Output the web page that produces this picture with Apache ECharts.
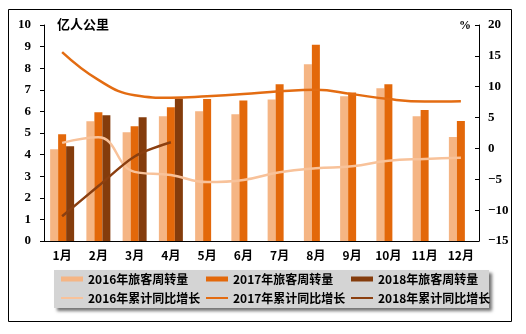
<!DOCTYPE html>
<html>
<head>
<meta charset="utf-8">
<script src="https://cdn.jsdelivr.net/npm/echarts@6/dist/echarts.min.js"></script>
<style>html,body{margin:0;padding:0;background:#fff}#c{width:526px;height:334px}</style>
</head>
<body>
<div id="c"></div>
<script>
var months = ['1月','2月','3月','4月','5月','6月','7月','8月','9月','10月','11月','12月'];
var pax2016 = [4.25, 5.54, 5.03, 5.77, 6.01, 5.87, 6.55, 8.18, 6.70, 7.07, 5.77, 4.81];
var pax2017 = [4.94, 5.96, 5.31, 6.19, 6.57, 6.50, 7.26, 9.09, 6.88, 7.26, 6.06, 5.55];
var pax2018 = [4.39, 5.82, 5.73, 6.60, null, null, null, null, null, null, null, null];
var growth2016 = [0.9, 1.8, -3.8, -4.3, -5.45, -5.1, -3.85, -3.2, -2.9, -2.0, -1.7, -1.5];
var growth2017 = [15.6, 11.1, 8.6, 8.2, 8.45, 8.8, 9.25, 9.5, 8.8, 8.0, 7.6, 7.65];
var growth2018 = [-11.0, -6.1, -1.3, 1.0];
var names = ['2016年旅客周转量','2017年旅客周转量','2018年旅客周转量','2016年累计同比增长','2017年累计同比增长','2018年累计同比增长'];
var colBar = ['#F5B584', '#E3680A', '#843C0C'];
var colLine = ['#F8C29A', '#E36C12', '#8B3F10'];

var numFont = {fontFamily: 'Liberation Serif', fontWeight: 'bold', fontSize: 13, color: '#000'};
var cjk = 'Noto Sans CJK SC';
var legTxt = {fontFamily: cjk, fontWeight: 'bold', fontSize: 12, color: '#000', lineHeight: 14};

function leg(name, left, top, h) {
  return {data: [{name: name, icon: 'rect'}], left: left, top: top, padding: 0,
    itemWidth: 22, itemHeight: h, itemGap: 0, textStyle: legTxt, selectedMode: false};
}

var chart = echarts.init(document.getElementById('c'), null, {renderer: 'canvas'});
chart.setOption({
  animation: false,
  backgroundColor: '#fff',
  grid: {left: 44, right: 47, top: 25, bottom: 93},
  legend: [
    leg(names[0], 61, 272, 5), leg(names[1], 206, 272, 5), leg(names[2], 351, 272, 5),
    leg(names[3], 61, 291, 2), leg(names[4], 206, 291, 2), leg(names[5], 351, 291, 2)
  ],
  graphic: [
    {type: 'rect', shape: {x: 8.5, y: 9.5, width: 503, height: 312}, style: {fill: 'none', stroke: '#000', lineWidth: 1}, z: 0},
    {type: 'rect', shape: {x: 54, y: 270, width: 435, height: 38},
     style: {fill: '#d4d4d4', shadowColor: 'rgba(0,0,0,0.55)', shadowOffsetX: 3, shadowOffsetY: 3, shadowBlur: 3}, z: 0},
    {type: 'text', left: 57, top: 18, style: {text: '亿人公里', font: 'bold 13px "Noto Sans CJK SC"', fill: '#000'}, z: 5},
    {type: 'text', left: 459, top: 20, style: {text: '%', font: 'bold 12px "Liberation Serif"', fill: '#000'}, z: 5}
  ],
  xAxis: {
    type: 'category', data: months, boundaryGap: true,
    axisLine: {lineStyle: {color: '#000', width: 1}},
    axisTick: {inside: true, length: 4, lineStyle: {color: '#000'}},
    axisLabel: {margin: 8, fontFamily: cjk, fontWeight: 'bold', fontSize: 12, color: '#000'}
  },
  yAxis: [
    {type: 'value', min: 0, max: 10, interval: 1, splitLine: {show: false},
     axisLine: {show: true, lineStyle: {color: '#000'}},
     axisTick: {show: true, length: 4, lineStyle: {color: '#000'}},
     axisLabel: Object.assign({margin: 13}, numFont)},
    {type: 'value', min: -15, max: 20, interval: 5, splitLine: {show: false},
     axisLine: {show: true, lineStyle: {color: '#000'}},
     axisTick: {show: true, inside: true, length: 4, lineStyle: {color: '#000'}},
     axisLabel: Object.assign({margin: 9, formatter: function (v) { return v < 0 ? '−' + (-v) : String(v); }}, numFont)}
  ],
  series: [
    {name: names[0], type: 'bar', data: pax2016, barWidth: 8, barGap: '0%', itemStyle: {color: colBar[0]}},
    {name: names[1], type: 'bar', data: pax2017, barWidth: 8, barGap: '0%', itemStyle: {color: colBar[1]}},
    {name: names[2], type: 'bar', data: pax2018, barWidth: 8, barGap: '0%', itemStyle: {color: colBar[2]}},
    {name: names[3], type: 'line', yAxisIndex: 1, data: growth2016, smooth: 0.45, showSymbol: false, symbol: 'none', lineStyle: {color: colLine[0], width: 2.5}, itemStyle: {color: colLine[0]}, z: 3},
    {name: names[4], type: 'line', yAxisIndex: 1, data: growth2017, smooth: 0.45, showSymbol: false, symbol: 'none', lineStyle: {color: colLine[1], width: 2.5}, itemStyle: {color: colLine[1]}, z: 3},
    {name: names[5], type: 'line', yAxisIndex: 1, data: growth2018, smooth: 0.3, showSymbol: false, symbol: 'none', lineStyle: {color: colLine[2], width: 2.5}, itemStyle: {color: colLine[2]}, z: 3}
  ]
});
</script>
</body>
</html>
